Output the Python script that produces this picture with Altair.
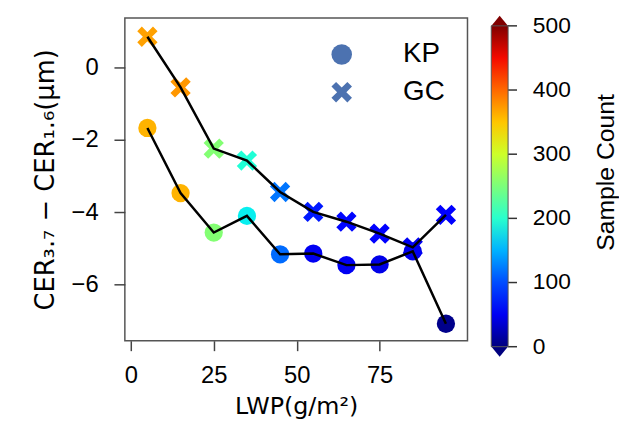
import altair as alt
import pandas as pd

# ---- data ----
lwp = [5, 15, 25, 35, 45, 55, 65, 75, 85, 95]
kp_diff = [-1.67, -3.47, -4.56, -4.10, -5.16, -5.14, -5.46, -5.44, -5.08, -7.08]
gc_diff = [0.85, -0.55, -2.24, -2.57, -3.44, -3.99, -4.26, -4.59, -4.97, -4.07]
kp_count = [360, 360, 255, 180, 115, 50, 50, 45, 45, 5]
gc_count = [370, 375, 255, 195, 120, 75, 65, 55, 50, 55]
series = ["KP", "GC"]

x_ticks = [0, 25, 50, 75]
y_ticks = [-6, -4, -2, 0]
cbar_ticks = [0, 100, 200, 300, 400, 500]
cbar_ends = [0, 500]

# jet colormap stops (count domain 0..500)
jet_frac = [0, 0.11, 0.125, 0.34, 0.35, 0.375, 0.5, 0.64, 0.66, 0.89, 0.91, 1]
jet_cols = ["#00007f", "#0000ff", "#0000ff", "#00dbff", "#00e5f7", "#14ffe2",
            "#7bff7b", "#eeff08", "#ffec00", "#ff1300", "#e80000", "#800000"]

rows = []
for s, ys, cs in [("KP", kp_diff, kp_count), ("GC", gc_diff, gc_count)]:
    for x, y, c in zip(lwp, ys, cs):
        rows.append({"LWP": x, "diff": y, "count": c, "series": s})
df = pd.DataFrame(rows)

X_PATH = ("M -1 -0.55 L -0.55 -1 L 0 -0.45 L 0.55 -1 L 1 -0.55 L 0.45 0 "
          "L 1 0.55 L 0.55 1 L 0 0.45 L -0.55 1 L -1 0.55 L -0.45 0 Z")
TRI_UP = "M -1 0.6 L 0 -0.6 L 1 0.6 Z"
TRI_DOWN = "M -1 -0.6 L 0 0.6 L 1 -0.6 Z"

xs = alt.Scale(domain=[-1.8, 101.5], nice=False, zero=False)
ys_ = alt.Scale(domain=[-7.55, 1.37], nice=False, zero=False)

x_enc = alt.X("LWP:Q", scale=xs,
              axis=alt.Axis(values=x_ticks, title="LWP(g/m²)", grid=False,
                            titleFont="DejaVu Sans", titleFontSize=24,
                            titleFontWeight="normal", titlePadding=7,
                            labelPadding=13))
y_enc = alt.Y("diff:Q", scale=ys_,
              axis=alt.Axis(values=y_ticks, title="CER₃.₇ − CER₁.₆(μm)", grid=False,
                            titleFont="DejaVu Sans", titleFontSize=26,
                            titleFontWeight="normal", titlePadding=13,
                            labelPadding=16, tickSize=11))

points = alt.Chart(df).mark_point(filled=True, opacity=1, strokeWidth=0).encode(
    x=x_enc,
    y=y_enc,
    shape=alt.Shape("series:N",
                    scale=alt.Scale(domain=series, range=["circle", X_PATH]),
                    legend=alt.Legend(orient="none", legendX=205, legendY=23,
                                      title=None, symbolSize=430,
                                      symbolFillColor="#4c72b0",
                                      symbolStrokeWidth=0,
                                      labelFontSize=28, labelOffset=48,
                                      labelColor="black",
                                      rowPadding=10)),
    fill=alt.Fill("count:Q",
                  scale=alt.Scale(domain=[f * 500 for f in jet_frac], range=jet_cols,
                                  interpolate="rgb"),
                  legend=alt.Legend(orient="none", legendX=370, legendY=8,
                                    direction="vertical", title=None,
                                    gradientLength=324, gradientThickness=17,
                                    gradientStrokeColor="#555", gradientStrokeWidth=1,
                                    values=[])),
    size=alt.condition(alt.datum.series == "KP", alt.value(340), alt.value(420)),
)

lines = alt.Chart(df).mark_line(color="black", strokeWidth=2.5).encode(
    x=alt.X("LWP:Q", scale=xs),
    y=alt.Y("diff:Q", scale=ys_),
    detail="series:N",
)

main = alt.layer(points, lines)

cb_scale = alt.Scale(domain=[0, 500], range=[332, 8])
ticks_df = pd.DataFrame({"v": cbar_ticks})
cbar_tick_marks = alt.Chart(ticks_df).mark_rule(
    color="#333", strokeWidth=1.5
).encode(
    y=alt.Y("v:Q", scale=cb_scale, axis=None),
    x=alt.value(387), x2=alt.value(396),
)
cbar_labels = alt.Chart(ticks_df).mark_text(
    align="left", baseline="middle", fontSize=23, font="Liberation Sans", color="black"
).encode(
    y=alt.Y("v:Q", scale=cb_scale, axis=None),
    x=alt.value(412),
    text=alt.Text("v:Q", format="d"),
)

ends_df = pd.DataFrame({"v": cbar_ends, "end": ["low", "high"]})
cbar_top = alt.Chart(ends_df).transform_filter(alt.datum.end == "high").mark_point(
    shape=TRI_UP, filled=True, opacity=1, size=289, color="#800000", yOffset=-5,
    strokeWidth=0
).encode(y=alt.Y("v:Q", scale=cb_scale, axis=None), x=alt.value(378.5))
cbar_bot = alt.Chart(ends_df).transform_filter(alt.datum.end == "low").mark_point(
    shape=TRI_DOWN, filled=True, opacity=1, size=289, color="#00007f", yOffset=5,
    strokeWidth=0
).encode(y=alt.Y("v:Q", scale=cb_scale, axis=None), x=alt.value(378.5))

cbar_title = alt.Chart(pd.DataFrame({"t": ["Sample Count"]})).mark_text(
    angle=270, fontSize=25, font="Liberation Sans", color="black", baseline="middle"
).encode(text="t:N", x=alt.value(486), y=alt.value(156))

cbar = alt.layer(cbar_tick_marks, cbar_labels, cbar_top, cbar_bot)

chart = alt.layer(main, cbar, cbar_title).resolve_scale(
    y="independent"
).properties(
    width=346, height=326,
    autosize=alt.AutoSizeParams(type="none"),
    padding={"left": 118, "top": 8, "right": 153, "bottom": 80},
    background="white",
).configure_view(
    stroke="#555", strokeWidth=1.5
).configure_axis(
    labelFont="Liberation Sans", labelFontSize=24, labelColor="black",
    tickColor="#444", tickSize=10, tickWidth=1.5, domain=False,
    titleColor="black",
).configure_legend(
    labelFont="Liberation Sans"
)

chart.save("out.html", embed_options={"renderer": "svg", "actions": False})
